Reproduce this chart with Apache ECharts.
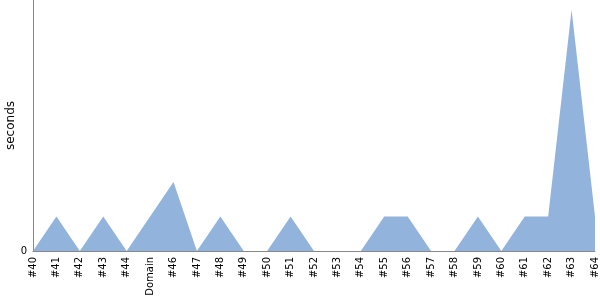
<!DOCTYPE html>
<html><head><meta charset="utf-8">
<script src="https://cdn.jsdelivr.net/npm/echarts@6/dist/echarts.min.js"></script>
<style>html,body{margin:0;padding:0;background:#fff}#c{width:600px;height:300px}</style>
</head><body><div id="c"></div>
<script>
const categories = ['#40','#41','#42','#43','#44','Domain','#46','#47','#48','#49','#50','#51','#52','#53','#54','#55','#56','#57','#58','#59','#60','#61','#62','#63','#64'];
const seconds = [0,1,0,1,0,1,2,0,1,0,0,1,0,0,0,1,1,0,0,1,0,1,1,7,1];
const yLabels = [0];
const chart = echarts.init(document.getElementById('c'), null, {renderer:'canvas'});
chart.setOption({
  animation:false,
  grid:{left:33, right:5, top:0, bottom:49, containLabel:false, outerBoundsMode:'none'},
  xAxis:{type:'category', data:categories, boundaryGap:false,
    axisLine:{lineStyle:{color:'#888', width:1}}, axisTick:{show:false},
    axisLabel:{rotate:90, interval:0, color:'#000', fontSize:10, fontFamily:'DejaVu Sans', margin:6}},
  yAxis:{type:'value', min:0, max:7.28, name:'seconds', nameLocation:'middle', nameGap:16,
    nameMoveOverlap:false,
    nameTextStyle:{color:'#000', fontSize:12, fontFamily:'DejaVu Sans'},
    splitLine:{show:false}, axisTick:{show:false},
    axisLine:{show:true, lineStyle:{color:'#888', width:1}},
    axisLabel:{color:'#000', fontSize:10, fontFamily:'DejaVu Sans', margin:6,
      formatter:v => yLabels.includes(v) ? String(v) : ''}},
  series:[{type:'line', data:seconds, symbol:'none', lineStyle:{width:0},
    areaStyle:{color:'#92b3dc', opacity:1}}]
});
</script></body></html>
